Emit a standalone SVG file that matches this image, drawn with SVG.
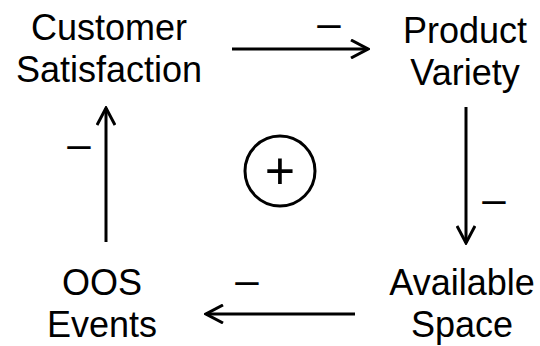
<svg xmlns="http://www.w3.org/2000/svg" width="540" height="346" viewBox="0 0 540 346">
<defs>
<style>
.lbl{font-family:"Liberation Sans",Arial,sans-serif;font-size:36px;fill:#000;text-anchor:middle}
.sgn{font-family:"Liberation Sans",Arial,sans-serif;font-size:42px;fill:#000;text-anchor:middle}
.ln{stroke:#000;stroke-width:3;fill:none}
</style>
<marker id="ah" viewBox="0 0 20 20" refX="18" refY="10" markerWidth="20" markerHeight="20" markerUnits="userSpaceOnUse" orient="auto">
<path d="M1,1 L18,10 L1,19" fill="none" stroke="#000" stroke-width="3"/>
</marker>
</defs>
<rect width="540" height="346" fill="#fff"/>
<g id="customer-satisfaction"><text class="lbl" x="109" y="40">Customer</text><text class="lbl" x="109" y="82">Satisfaction</text></g>
<g id="product-variety"><text class="lbl" x="465" y="43">Product</text><text class="lbl" x="465" y="85">Variety</text></g>
<g id="available-space"><text class="lbl" x="462" y="295">Available</text><text class="lbl" x="462" y="337">Space</text></g>
<g id="oos-events"><text class="lbl" x="102" y="295">OOS</text><text class="lbl" x="102" y="337">Events</text></g>
<g id="loop"><circle cx="280" cy="171" r="35" class="ln"/><text class="sgn" x="280" y="189" style="font-size:52px">+</text></g>
<g id="connectors">
<line class="ln" x1="232" y1="49" x2="368" y2="49" marker-end="url(#ah)"/>
<text class="sgn" x="329" y="37">–</text>
<line class="ln" x1="466" y1="107" x2="466" y2="243" marker-end="url(#ah)"/>
<text class="sgn" x="494" y="213">–</text>
<line class="ln" x1="355" y1="314" x2="206" y2="314" marker-end="url(#ah)"/>
<text class="sgn" x="247" y="294">–</text>
<line class="ln" x1="106" y1="242" x2="106" y2="108" marker-end="url(#ah)"/>
<text class="sgn" x="79" y="158">–</text>
</g>
</svg>
